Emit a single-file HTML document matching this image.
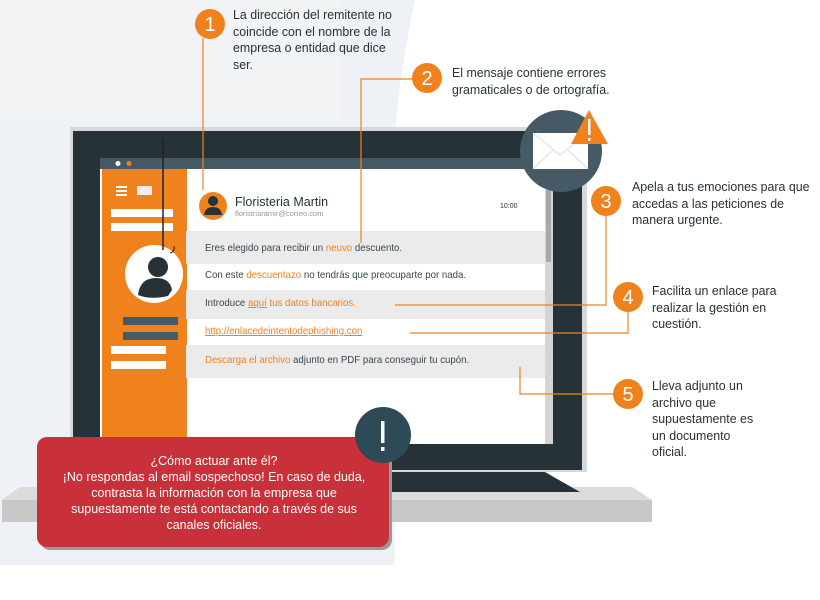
<!DOCTYPE html>
<html><head><meta charset="utf-8"><style>
body{margin:0;width:820px;height:600px;background:#fff;position:relative;overflow:hidden;font-family:"Liberation Sans",sans-serif;}
.t{position:absolute;font-size:12.5px;line-height:16.5px;color:#263238;white-space:nowrap;transform:scaleX(0.99);transform-origin:0 0}
.r{position:absolute;left:205px;font-size:10.5px;color:#37474f;white-space:nowrap;transform:scaleX(0.92);transform-origin:0 0}
.o{color:#f0821e}
svg{position:absolute;left:0;top:0}
</style></head><body>
<svg width="820" height="600">
<path d="M0 0 L415 0 Q390 120 395 190 L395 565 L100 565 L0 565 Z" fill="#eef2f7"/>
<path d="M0 0 L340 0 L340 120 L0 120 Z" fill="#f2f3f4"/>
<path d="M20 487 L632 487 L652 500 L652 522 L2 522 L2 500 Z" fill="#c8c8c8"/>
<path d="M20 487 L632 487 L652 500 L2 500 Z" fill="#dcdcdc"/>
<path d="M380 468 L538 468 L580 492 L380 492 Z" fill="#263238"/>
<rect x="70" y="127" width="517" height="345" fill="#d6d8da"/>
<rect x="73" y="131" width="509" height="339" fill="#263238"/>
<rect x="100" y="158" width="455" height="11" fill="#455a64"/>
<circle cx="118" cy="163.5" r="2.5" fill="#fff"/><circle cx="129" cy="163.5" r="2.5" fill="#f0821e"/>
<rect x="100" y="169" width="455" height="275" fill="#fff"/>
<rect x="102" y="169" width="85" height="300" fill="#f0821e"/>
<rect x="545" y="169" width="8" height="275" fill="#d4d4d4"/>
<rect x="546" y="190" width="5" height="72" fill="#a8a8a8"/>
<rect x="553" y="169" width="29" height="300" fill="#263238"/>
<rect x="582" y="169" width="4" height="300" fill="#d6d8da"/>
<rect x="116" y="186" width="11" height="2" fill="#fff"/><rect x="116" y="190" width="11" height="2" fill="#fff"/><rect x="116" y="194" width="11" height="2" fill="#fff"/>
<rect x="137" y="186" width="15" height="9" fill="#eee"/>
<rect x="111" y="209" width="62" height="8" fill="#fff"/><rect x="111" y="223" width="62" height="8" fill="#fff"/>
<circle cx="154" cy="274" r="29" fill="#fff"/>
<circle cx="158" cy="267" r="10" fill="#263238"/>
<path d="M138 295 Q140 278 156 278 Q170 278 172 290 L168 296 Q150 300 138 295 Z" fill="#263238"/>
<rect x="123" y="317" width="55" height="8" fill="#455a64"/><rect x="123" y="332" width="55" height="8" fill="#455a64"/>
<rect x="111" y="346" width="55" height="8" fill="#fff"/><rect x="111" y="361" width="55" height="8" fill="#fff"/>
<line x1="163" y1="138" x2="163" y2="250" stroke="#222" stroke-width="1.5"/>
<path d="M174 246 Q175 252 170 253" stroke="#222" fill="none"/>
<rect x="186" y="231" width="359" height="33" fill="#ebebeb"/>
<rect x="186" y="290" width="359" height="29" fill="#ebebeb"/>
<rect x="186" y="345" width="359" height="33" fill="#ebebeb"/>
<circle cx="213" cy="206" r="14" fill="#f0821e"/>
<circle cx="213" cy="201" r="5" fill="#263238"/>
<path d="M204 215 Q205 207 213 207 Q221 207 222 215 Z" fill="#263238"/>
<circle cx="561" cy="151" r="41" fill="#455a64"/>
<rect x="533" y="133" width="55" height="36" fill="#fff"/>
<path d="M533 133 L560 155 L588 133 M533 169 L553 150 M588 169 L568 150" stroke="#ddd" fill="none"/>
<path d="M589 110 L608 144 L571 144 Z" fill="#f0821e"/>
<rect x="588" y="119" width="2.5" height="16" fill="#fff"/><rect x="588" y="138" width="2.5" height="3" fill="#fff"/>
<g stroke="#f0821e" stroke-width="1.2" fill="none">
<path d="M203 38 L203 190"/>
<path d="M413 79 L361 79 L361 243"/>
<path d="M606 215 L606 305 L395 305"/>
<path d="M628 311 L628 333 L410 333"/>
<path d="M614 394 L520 394 L520 367"/>
</g>
<g fill="#f0821e">
<circle cx="210" cy="24" r="15"/><circle cx="427" cy="78" r="15"/><circle cx="606" cy="201" r="15"/><circle cx="628" cy="297" r="15"/><circle cx="628" cy="394" r="15"/>
</g>
<g fill="#fff" font-size="20" font-family="Liberation Sans" text-anchor="middle">
<text x="210" y="31">1</text><text x="427" y="85">2</text><text x="606" y="208">3</text><text x="628" y="304">4</text><text x="628" y="401">5</text>
</g>
<rect x="40" y="440" width="352" height="110" rx="10" fill="#9a9a9a"/>
<rect x="37" y="437" width="352" height="110" rx="10" fill="#c8303a"/>
<circle cx="383" cy="435" r="28" fill="#2f4a57"/>
<rect x="381" y="421" width="3.5" height="22" fill="#fff"/><rect x="381" y="447" width="3.5" height="4" fill="#fff"/>
</svg>
<div class="t" style="left:233px;top:7px">La dirección del remitente no<br>coincide con el nombre de la<br>empresa o entidad que dice<br>ser.</div>
<div class="t" style="left:452px;top:65px">El mensaje contiene errores<br>gramaticales o de ortografía.</div>
<div class="t" style="left:632px;top:179px">Apela a tus emociones para que<br>accedas a las peticiones de<br>manera urgente.</div>
<div class="t" style="left:652px;top:283px">Facilita un enlace para<br>realizar la gestión en<br>cuestión.</div>
<div class="t" style="left:652px;top:378px">Lleva adjunto un<br>archivo que<br>supuestamente es<br>un documento<br>oficial.</div>
<div style="position:absolute;left:235px;top:195px;font-size:12.5px;color:#263238">Floristeria Martin</div>
<div style="position:absolute;left:235px;top:209px;font-size:7.5px;color:#999">floristriaramir@correo.com</div>
<div style="position:absolute;left:500px;top:203px;font-size:7px;color:#263238">10:00</div>
<div class="r" style="top:242px">Eres elegido para recibir un <span class="o">neuvo</span> descuento.</div>
<div class="r" style="top:269px">Con este <span class="o">descuentazo</span> no tendrás que preocuparte por nada.</div>
<div class="r" style="top:297px">Introduce <span class="o"><u>aquí</u> tus datos bancarios.</span></div>
<div class="r o" style="top:325px;text-decoration:underline">http://enlacedeintentodephishing.con</div>
<div class="r" style="top:354px"><span class="o">Descarga el archivo</span> adjunto en PDF para conseguir tu cupón.</div>
<div style="position:absolute;left:14px;top:453px;width:400px;text-align:center;color:#fff;font-size:13px;line-height:16px;white-space:nowrap;transform:scaleX(0.96);transform-origin:200px 0">¿Cómo actuar ante él?<br>¡No respondas al email sospechoso! En caso de duda,<br>contrasta la información con la empresa que<br>supuestamente te está contactando a través de sus<br>canales oficiales.</div>
</body></html>
